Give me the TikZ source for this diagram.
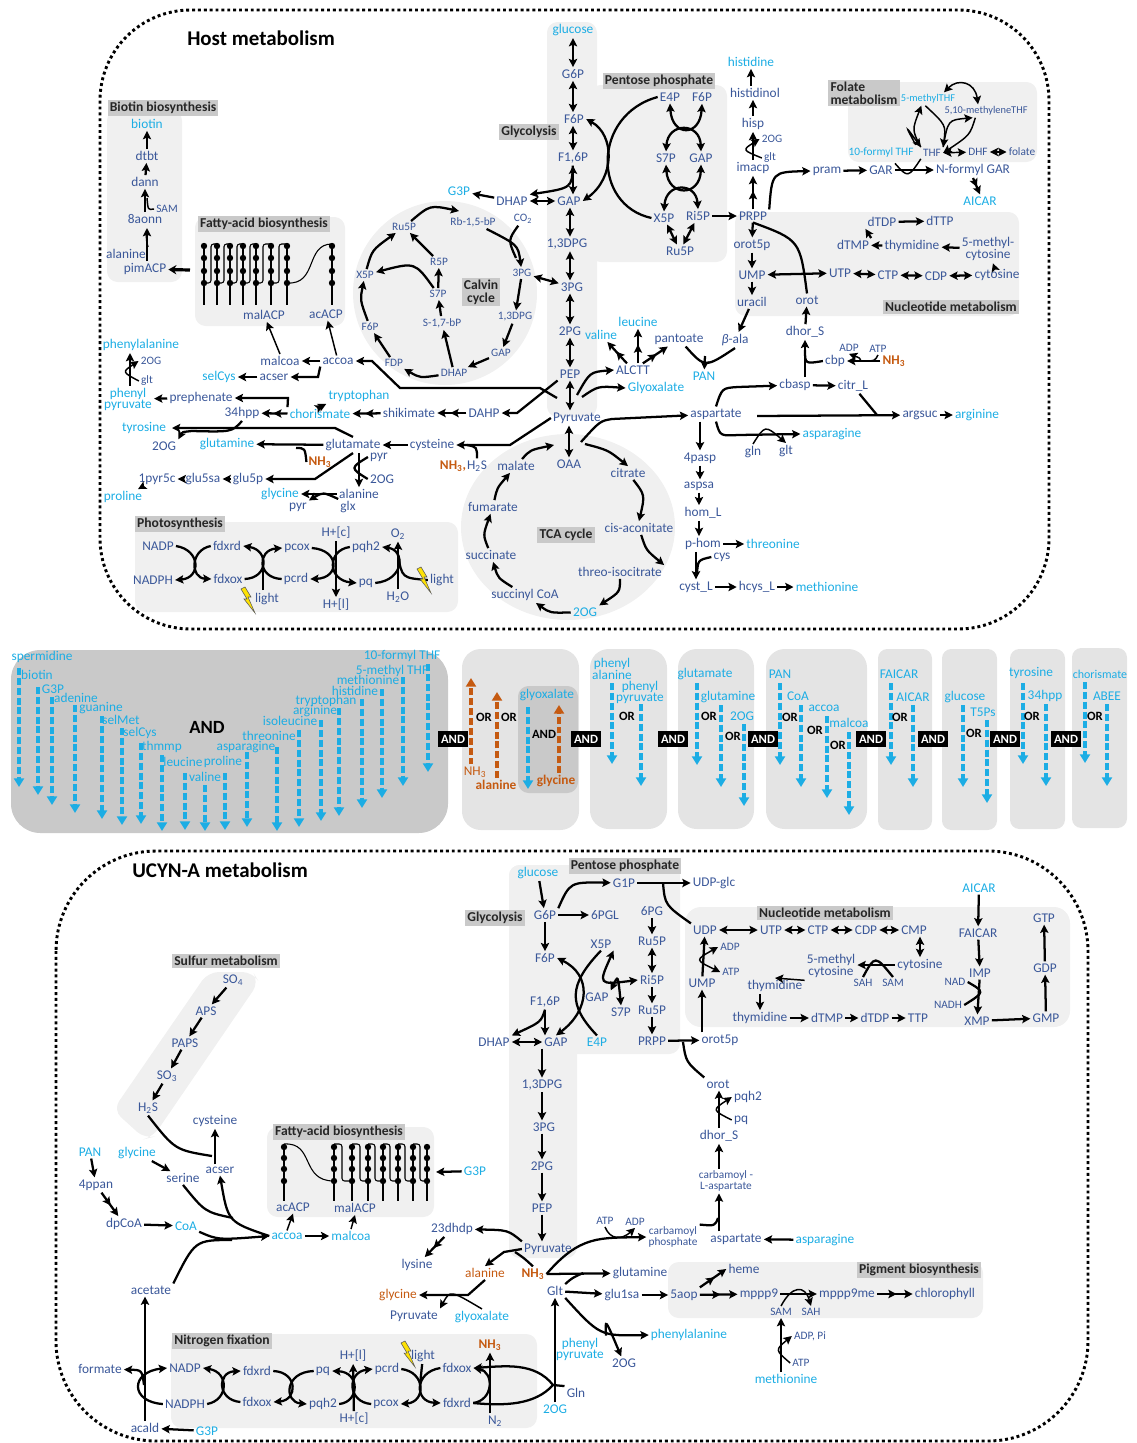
\documentclass[tikz,border=0pt]{standalone}
\usepackage{fontspec}
\setmainfont{Carlito}
\usetikzlibrary{arrows.meta,decorations.markings}
\definecolor{metblue}{HTML}{3A5799}
\definecolor{cyanmet}{HTML}{1CADE4}
\definecolor{orgmet}{HTML}{C55A11}
\definecolor{pnlgray}{HTML}{F0F0F0}
\definecolor{midgray}{HTML}{E4E4E4}
\definecolor{darkgray}{HTML}{C9C9C9}
\tikzset{
met/.style={font=\fontsize{10}{8.2}\selectfont,text=metblue,inner sep=1.5pt,align=center},
cya/.style={met,text=cyanmet},
org/.style={met,text=orgmet},
orgb/.style={met,text=orgmet,font=\fontsize{10}{8.2}\selectfont\bfseries},
sml/.style={met,font=\fontsize{8.5}{8}\selectfont},
smc/.style={sml,text=cyanmet},
tgt/.style={sml,font=\fontsize{7.8}{8}\selectfont},
lab/.style={fill=darkgray,text=black!85,font=\fontsize{10.2}{9.5}\selectfont\bfseries,inner sep=1.6pt,align=left},
andbox/.style={fill=black,text=white,font=\fontsize{9.5}{9.5}\selectfont\bfseries,inner sep=2pt,minimum width=22pt,minimum height=11.5pt},
orlab/.style={text=black,font=\fontsize{9.5}{9.5}\selectfont\bfseries,inner sep=1pt},
ttl/.style={text=black,font=\fontsize{15.7}{15}\selectfont\bfseries,inner sep=0pt,anchor=west},
pnl/.style={fill=pnlgray,rounded corners=8pt},
pnm/.style={fill=midgray,rounded corners=14pt},
pnd/.style={fill=darkgray,rounded corners=22pt},
frm/.style={draw=black,line width=2.2pt,dash pattern=on 2.2pt off 2.2pt},
arr/.style={->,line width=1.7pt},
dbl/.style={<->,line width=1.7pt},
lnk/.style={line width=1.7pt},
thn/.style={line width=1.1pt},
two/.style={arr,decoration={markings,mark=at position .55 with {\arrow{>}}},postaction={decorate}},
dsh/.style={-{Triangle[length=6.5pt,width=7.5pt]},line width=2.4pt,draw=cyanmet,dash pattern=on 5.2pt off 2.2pt},
dso/.style={dsh,draw=orgmet},
bolt/.pic={\path[fill=yellow!85!orange,draw=black!65,line width=.4pt] (-6,-11)--(-2,-13)--(4,-3)--(1,-3)--(8,13)--(-3,-1)--(0,-1)--cycle;}
}
\begin{document}
\begin{tikzpicture}[x=.75pt,y=-.75pt,>={Stealth[length=6.2pt,width=6.2pt,inset=1.2pt]}]
\useasboundingbox (0,0) rectangle (1136,1443);
\draw[frm,rounded corners=68pt] (100,10) rectangle (1049,629);
\draw[frm,rounded corners=75pt] (56,851) rectangle (1088,1441);
\node[ttl] (hTitle) at (187,38) {Host metabolism};
\node[ttl] (uTitle) at (132,870) {UCYN-A metabolism};
% host panels
\fill[pnl] (107,110) rectangle (182,282);
\fill[pnl] (195,217) rectangle (345,326);
\fill[pnlgray] (445,293) circle (92);
\fill[pnl] (547,22) rectangle (597,417);
\fill[pnl] (590,85) rectangle (727,262);
\fill[pnl] (848,82) rectangle (1037,162);
\fill[pnl] (735,212) rectangle (1019,316);
\fill[pnlgray] (568,527) ellipse (107 and 93);
\fill[pnl] (135,522) rectangle (458,612);
% middle panels
\fill[pnd] (11,650) rectangle (448,833);
\fill[pnm] (462,649) rectangle (579,830);
\fill[darkgray,rounded corners=8pt] (518,686) rectangle (578,793);
\fill[pnm] (590,649) rectangle (667,829);
\fill[pnm] (678,649) rectangle (754,829);
\fill[pnm] (766,649) rectangle (867,829);
\fill[pnm,rounded corners=7pt] (878,649) rectangle (932,830);
\fill[pnm,rounded corners=7pt] (942,649) rectangle (997,830);
\fill[pnm,rounded corners=7pt] (1010,649) rectangle (1065,829);
\fill[pnm,rounded corners=7pt] (1072,648) rectangle (1127,828);
% ucyn panels
\fill[pnl] (509,865) rectangle (577,1258);
\fill[pnl] (509,865) rectangle (680,1054);
\fill[pnl,rounded corners=12pt] (685,907) rectangle (1070,1027);
\fill[pnl] (208,972)--(253,972)--(259,982)--(153,1137)--(145,1139)--(113,1110)--cycle;
\fill[pnl] (267,1127) rectangle (434,1217);
\fill[pnl] (668,1262) rectangle (983,1318);
\fill[pnl] (171,1334) rectangle (537,1428);
% section labels
\foreach \n/\x/\y/\lbl in {
lBiotin/163/108/Biotin biosynthesis,lFattyH/264/224/Fatty-acid biosynthesis,lGlyH/529/132/Glycolysis,lPentH/659/81/Pentose phosphate,
lFol/864/93/{Folate\\metabolism},lNucH/951/307/Nucleotide metabolism,lTCA/566/535/TCA cycle,lPhoto/180/524/Photosynthesis,
lPentU/625/866/Pentose phosphate,lGlyU/495/918/Glycolysis,lNucU/825/913/Nucleotide metabolism,lSul/226/961/Sulfur metabolism,lFattyU/339/1132/Fatty-acid biosynthesis,
lPig/919/1270/Pigment biosynthesis,lNfix/222/1341/Nitrogen fixation}
\node[lab] (\n) at (\x,\y) {\lbl};
\node[lab,align=center] (lCalvin) at (481,292) {Calvin\\cycle};
% host metabolites
\foreach \n/\x/\y/\lbl in {
hG6P/573/74/G6P,hF6P/574/119/F6P,hF16P/573/158/{F1,6P},hGAP/569/201/GAP,hDPG/567/244/{1,3DPG},h3PG/572/287/3PG,h2PG/570/331/2PG,hPEP/570/374/PEP,hPyr/577/418/Pyruvate,hOAA/569/464/OAA,
hDHAP/512/201/DHAP,hE4P/670/97/E4P,hF6Pb/702/97/F6P,hS7P/666/158/S7P,hGAPb/701/158/GAP,hX5P/664/218/X5P,hRi5P/698/216/Ri5P,hRu5P/680/251/Ru5P,hPRPP/753/216/PRPP,
himacp/753/168/imacp,hhisp/753/124/hisp,hhistol/755/93/histidinol,hpram/827/171/pram,hGAR/881/170/GAR,hNGAR/973/170/N-formyl GAR,
horot5p/752/245/orot5p,hUMP/752/275/UMP,huracil/752/302/uracil,horot/807/300/orot,hUTP/840/273/UTP,hCTP/888/275/CTP,hCDP/936/276/CDP,hcytos/997/275/cytosine,hmcyt/988/249/{5-methyl-\\cytosine},
hthym/912/246/thymidine,hdTMP/853/245/dTMP,hdTDP/882/222/dTDP,hdTTP/940/221/dTTP,hdhor/805/332/dhor\_S,hcbp/835/361/cbp,hcbasp/795/385/cbasp,hcitr/853/386/citr\_L,hargsuc/920/415/argsuc,
haspt/716/414/aspartate,hgln/753/452/gln,hglt/786/451/glt,h4pasp/700/458/4pasp,haspsa/699/486/aspsa,hhom/703/513/hom\_L,hphom/703/544/p-hom,hcys/722/557/cys,hcyst/696/587/cyst\_L,hhcys/757/587/hcys\_L,
hALCTT/633/370/ALCTT,hpant/679/339/pantoate,hbala/735/340/{\itshape β}-ala,hcitrate/628/473/citrate,hcis/639/528/cis-aconitate,hthreo/620/572/threo-isocitrate,hsuccoa/525/595/succinyl CoA,hsucc/491/555/succinate,hfum/493/507/fumarate,hmal/516/466/malate,
hHtwoS/477/466/H\textsubscript{2}S,hcyste/432/445/cysteine,hglut/353/445/glutamate,hpyra/379/457/pyr,hOGa/382/479/2OG,hala/359/494/alanine,hglx/348/507/glx,hpyrb/298/507/pyr,hglufp/248/479/glu5p,hglusa/203/479/glu5sa,hpyrc/157/479/1pyr5c,hOGb/164/446/2OG,
h34/242/413/34hpp,hshik/409/413/shikimate,hDAHP/484/413/DAHP,hpreph/201/398/prephenate,hacser/274/377/acser,hmalc/280/361/malcoa,haccoa/338/361/accoa,hmalACP/264/315/malACP,hacACP/326/314/acACP,
hdtbt/147/156/dtbt,hdann/145/182/dann,h8aonn/145/219/8aonn,halab/126/254/alanine,hpim/145/269/pimACP,
hNADP/158/546/NADP,hNADPH/153/580/NADPH,hfdxrd/227/546/fdxrd,hfdxox/228/579/fdxox,hpcox/297/548/pcox,hpcrd/296/579/pcrd,hHc/336/533/{H+[c]},hHl/336/605/{H+[l]},hpqh/366/547/pqh2,hpq/366/583/pq,hOtwo/398/534/O\textsubscript{2},hHtwoO/398/597/H\textsubscript{2}O,hlighta/267/599/light,hlightb/442/580/light}
\node[met] (\n) at (\x,\y) {\lbl};
\foreach \n/\x/\y/\lbl in {
hOGc/772/139/2OG,hgltc/770/158/glt,hTHF/932/153/THF,hDHF/978/152/DHF,hfolate/1022/152/folate,hADP/849/348/ADP,hATP/878/349/ATP,hSAM/167/209/SAM,hOGd/151/361/2OG,hgltd/147/381/glt,
hRu5Pc/404/227/Ru5P,hRb/473/222/{Rb-1,5-bP},hCOtwo/523/219/CO\textsubscript{2},h3PGc/522/273/3PG,hDPGc/515/317/{1,3DPG},hGAPc/501/353/GAP,hDHAPc/454/373/DHAP,hFDP/394/363/FDP,hF6Pc/370/327/F6P,hX5Pc/365/275/X5P,hR5P/439/262/R5P,hS7Pc/438/294/S7P,hSbP/442/323/{S-1,7-bP}}
\node[sml] (\n) at (\x,\y) {\lbl};
\node[tgt] (hmeth) at (986,111) {5,10-methyleneTHF};
\node[tgt,text=cyanmet] (hmthf) at (928,99) {5-methylTHF};
\foreach \n/\x/\y/\lbl in {
hgluc/573/30/glucose,hGthree/459/191/G3P,hhis/751/62/histidine,hAICAR/980/201/AICAR,hleu/638/322/leucine,hval/601/335/valine,hPAN/704/376/PAN,hGlyox/656/388/Glyoxalate,
harg/977/415/arginine,hasn/832/434/asparagine,hthr/773/544/threonine,hmet/827/587/methionine,hOGe/585/612/2OG,hgln2/227/444/glutamine,hgly/280/494/glycine,hpro/123/497/proline,htyr/144/428/tyrosine,
hcho/320/414/chorismate,htrp/359/396/tryptophan,hphepy/128/399/{phenyl\\pyruvate},hphe/141/345/phenylalanine,hselC/219/377/selCys,hbio/147/124/biotin}
\node[cya] (\n) at (\x,\y) {\lbl};
\node[smc] (hfthf) at (881,152) {10-formyl THF};
\node[orgb] (hNHa) at (894,361) {NH\textsubscript{3}};
\node[orgb] (hNHb) at (453,466) {NH\textsubscript{3},};
\node[orgb] (hNHc) at (320,462) {NH\textsubscript{3}};
\coordinate (hPyrA) at (581,442);
\coordinate (hPyrB) at (585,444);
\coordinate (hPyrC) at (577,395);
\coordinate (hPyrD) at (582,397);
\coordinate (hPyrE) at (557,398);
\coordinate (hAspE) at (757,416);
% host glycolysis and pentose
\foreach \a/\b in {hgluc/hG6P,hG6P/hF6P,hF6P/hF16P}
\draw[dbl] (\a.south -| hG6P) -- (\b.north -| hG6P);
\draw[dbl] (hF16P) -- (hGAP.north -| hF16P);
\foreach \a/\b in {hGAP/hDPG,hDPG/h3PG,h3PG/h2PG,h2PG/hPEP}
\draw[dbl] (\a.south -| h2PG) -- (\b.north -| h2PG);
\draw[dbl] (hPEP) -- (hPyr.north -| hPEP);
\draw[dbl] (hPyr.south -| hOAA) -- (hOAA);
\draw[arr] (hF16P) .. controls (572,188) .. (hDHAP.north east);
\draw[dbl] (hDHAP) -- (hGAP);
\draw[arr] (hDHAP) -- (hGthree);
\draw[dbl] (h3PGc) -- (h3PG);
\draw[dbl] (hF6P.east) .. controls (615,135) and (615,178) .. (hGAP.east);
\draw[lnk] (hE4P.west) .. controls (592,115) and (592,205) .. (hX5P.west);
\draw[dbl] (hE4P.south) .. controls (672,137) and (700,137) .. (hF6Pb.south);
\draw[dbl] (hS7P.north) .. controls (668,122) and (700,122) .. (hGAPb.north);
\draw[dbl] (hS7P.south) .. controls (668,197) and (700,197) .. (hGAPb.south);
\draw[dbl] (hX5P.north) .. controls (666,182) and (696,182) .. (hRi5P.north);
\draw[dbl] (hX5P) -- (hRu5P);
\draw[dbl] (hRi5P) -- (hRu5P);
\draw[arr] (hRi5P) -- (hPRPP);
% host histidine, folate
\draw[two] (hPRPP) -- (himacp);
\draw[arr] (himacp) -- (hhisp);
\draw[arr] (hhisp) -- (hhistol.south -| hhisp);
\draw[arr] (hhistol.north -| hhis) -- (hhis);
\draw[arr,thn] (hgltc.west) .. controls (742,150) .. (hOGc.west);
\draw[arr] (hPRPP.north east) .. controls (772,172) .. (hpram.west);
\draw[arr] (hpram) -- (hGAR);
\draw[arr] (hGAR) -- (hNGAR);
\draw[two] (hNGAR.south) -- (hAICAR.north);
\draw[dbl,thn] ([xshift=12pt]hmthf.north) .. controls (958,78) and (975,82) .. ([xshift=-6pt]hmeth.north);
\draw[->,thn] (hTHF.north west) .. controls (912,130) .. ([xshift=-5pt]hmthf.south);
\draw[->,thn] ([xshift=-2pt]hmthf.south) .. controls (946,125) .. (hTHF.north east);
\draw[->,thn] (hTHF.north east) .. controls (948,120) .. ([xshift=-10pt]hmeth.south);
\draw[->,thn] ([xshift=-8pt]hmeth.south) .. controls (970,135) .. (hTHF.east);
\draw[->,thn] (hfthf.north east) .. controls (905,125) .. (hTHF.north west);
\draw[thn] (hGAR.north east) .. controls (908,178) .. (hTHF.south west);
\draw[dbl,thn] (hTHF) -- (hDHF);
\draw[dbl,thn] (hDHF) -- (hfolate);
% host nucleotides
\draw[arr] (hPRPP) -- (horot5p);
\draw[arr] (horot5p) -- (hUMP);
\draw[arr] (hUMP) -- (huracil);
\draw[dbl] (hUMP) -- (hUTP);
\draw[dbl] (hUTP) -- (hCTP);
\draw[dbl] (hCTP) -- (hCDP);
\draw[dbl] (hCDP) -- (hcytos);
\draw[arr] (hcytos) -- (hmcyt);
\draw[arr] (hmcyt) -- (hthym);
\draw[arr] (hthym) -- (hdTMP);
\draw[arr] (hdTMP.north east) -- (hdTDP.south west);
\draw[arr] (hdTDP) -- (hdTTP);
\draw[lnk] (hPRPP.south) .. controls (800,240) .. (horot.north);
\draw[arr] (hdhor) -- (horot);
\draw[arr] (huracil) -- (hbala);
\draw[arr] (hcbasp.north -| hdhor) -- (hdhor);
\draw[lnk] (hcbp.west) .. controls (805,364) .. (805,350);
\draw[arr] (hNHa) -- (hcbp);
\draw[arr,thn] (861,361) .. controls (860,358) .. (hADP.south);
\draw[thn] (hATP.south) .. controls (875,361) .. (862,361);
% host aspartate
\draw[arr] (hPyrA) .. controls (600,421) .. (612,419) -- (haspt);
\draw[arr] (haspt.north) .. controls (722,388) .. (738,387) -- (hcbasp);
\draw[arr] (hcbasp) -- (hcitr);
\draw[arr] (hAspE) -- (hargsuc);
\draw[lnk] (hcitr) -- (877,415);
\draw[arr] (hargsuc) -- (harg);
\draw[arr] (haspt.south) .. controls (720,436) .. (738,435) -- (hasn.west);
\draw[arr,thn] (hgln.north) .. controls (765,425) .. (hglt.north);
\draw[arr] (haspt.south -| h4pasp) -- (h4pasp);
\draw[arr] (h4pasp) -- (haspsa.north -| h4pasp);
\draw[arr] (haspsa) -- (hhom.north -| haspsa);
\draw[arr] (hhom.south -| haspsa) -- (hphom.north -| haspsa);
\draw[arr] (hphom) -- (hthr);
\draw[arr] (hphom.south -| hcyst) -- (hcyst);
\draw[lnk] (hcys.west) .. controls (698,560) .. (697,573);
\draw[arr] (hcyst) -- (hhcys);
\draw[arr] (hhcys) -- (hmet);
% host branch points
\draw[arr] (hPyrC) .. controls (590,372) .. (hALCTT.west);
\draw[arr] (hPyrD) .. controls (598,386) .. (hGlyox.west);
\draw[two] (hALCTT) -- (hval);
\draw[two] (hALCTT.north -| hleu) -- (hleu);
\draw[two] (hALCTT) -- (hpant);
\draw[lnk] ([xshift=5pt]hpant.south) .. controls (705,368) .. (hbala.south);
\coordinate (hPANjoin) at (705,356);
\draw[arr] (hPANjoin) -- (hPAN);
% host TCA
\draw[arr] (hPyrB) .. controls (608,450) .. (hcitrate.north);
\draw[arr] (hcitrate) .. controls (645,495) .. (hcis.north);
\draw[arr] (hcis) .. controls (646,550) .. (hthreo.north east);
\draw[arr] (hthreo) .. controls (620,592) .. (hOGe.north east);
\draw[arr] (hOGe) .. controls (550,613) .. (hsuccoa);
\draw[arr] (hsuccoa) .. controls (498,578) .. (hsucc);
\draw[arr] (hsucc) .. controls (483,535) .. (hfum);
\draw[arr] (hfum) .. controls (497,488) .. (hmal);
\draw[arr] (hmal) .. controls (530,450) .. (554,445);
% host calvin
\draw[arr] (hRu5Pc) .. controls (430,205) .. (459,211);
\draw[arr] (hX5Pc) .. controls (372,250) .. (hRu5Pc);
\draw[arr] (hR5P) -- (hRu5Pc);
\draw[arr] (hS7Pc) -- (hR5P);
\draw[arr] (hS7Pc) .. controls (415,262) .. (hX5Pc);
\draw[arr] (hSbP) -- (hS7Pc);
\draw[arr] (hDHAPc) -- (hSbP);
\draw[arr] (hDHAPc) .. controls (420,378) .. (hFDP);
\draw[arr] (hFDP) -- (hF6Pc);
\draw[arr] (hF6Pc) .. controls (360,300) .. (hX5Pc);
\draw[arr] (hGAPc) -- (hDHAPc);
\draw[arr] (hDPGc) -- (hGAPc);
\draw[arr] (h3PGc) -- (hDPGc);
\draw[arr] (hRb) .. controls (518,245) .. (h3PGc);
\draw[lnk] (hCOtwo) .. controls (508,240) .. (516,258);
% host amino acids
\draw[arr] (hPyrE) -- (540,388) -- (400,388) -- (372,361) -- (haccoa);
\draw[arr] (hPEP.south west) -- (517,413) -- (hDAHP);
\draw[arr] (hPyr.west) -- (510,445) -- (hcyste);
\draw[lnk] (hHtwoS.north) .. controls (477,447) .. (467,445);
\draw[arr] (hcyste) -- (hglut);
\draw[arr] (hglut) -- (hgln2);
\draw[lnk] (hNHc.west) .. controls (305,448) .. (296,448);
\draw[arr] (hglut.south -| hala) -- (hala);
\draw[lnk] (hpyra.west) .. controls (350,468) .. (hOGa.west);
\draw[arr] (hglut.south) -- (315,479) -- (hglufp);
\draw[arr] (hglut.north) -- (335,428) -- (172,428);
\draw[arr] (h34.south) .. controls (232,432) .. (192,431) .. controls (182,432) .. (hOGb.north east);
\draw[arr] (hcho.north west) -- (288,398) -- (hpreph);
\draw[arr] (hpreph) -- (hphepy);
\draw[two] (hcho) -- (h34);
\draw[two] (hshik) -- (hcho);
\draw[two] (hDAHP) -- (hshik);
\draw[two] (hcho.north) -- (htrp.south west);
\draw[arr] (hphepy.north -| 130,0) -- (130,353);
\draw[->,thn] (hgltd.west) .. controls (122,372) .. (hOGd.west);
\draw[arr] (haccoa) -- (hmalc);
\draw[arr] (hacser) -- (hselC);
\draw[arr] (haccoa.south west) -- (318,377) -- (hacser);
\draw[arr,thn] (hmalc.north) -- (hmalACP);
\draw[arr,thn] (haccoa) -- (hacACP);
\draw[arr] (hglufp) -- (hglusa);
\draw[arr] (hglusa) -- (hpyrc);
\draw[arr,thn] (hpyrc) -- (hpro);
\draw[arr] (hala) -- (hgly);
\draw[arr] (hglx.north west) .. controls (323,492) .. (hpyrb);
% host biotin and fatty acid
\draw[arr] (hdtbt) -- (hbio);
\draw[arr] (hdann) -- (hdtbt);
\draw[arr] (h8aonn) -- (hdann);
\draw[lnk,thn] (hSAM.west) .. controls (148,210) .. (147,198);
\draw[arr] (hpim.north -| 147,0) -- (147,228);
\draw[lnk,thn] (halab.north east) .. controls (147,245) .. (146,232);
\coordinate (hFAend) at (190,270);
\draw[-{Stealth[length=6pt,width=7pt]},line width=2.4pt] (hFAend) -- (hpim);
\foreach \x in {204,217,230,243,256,271,287,332} {
\draw[line width=1pt] (\x,246) -- (\x,305);
\foreach \y in {246,258,271,283} \fill (\x,\y) circle (3.2);
}
\foreach \a/\m/\b in {204/211/217,217/224/230,230/237/243,243/250/256,256/263/271,271/279/287}
\draw[line width=.8pt,rounded corners=2pt] (\a,283) -- (\m,283) -- (\m,244) -- (\b,244);
\draw[line width=.8pt] (287,283) .. controls (318,285) and (305,244) .. (332,244);
% photosynthesis
\draw[->,lnk] (hNADP.east) .. controls (201,550) and (201,578) .. (hNADPH.east);
\draw[->,lnk] (hfdxrd.west) .. controls (190,550) and (190,578) .. (hfdxox.west);
\draw[->,lnk] (hfdxox.east) .. controls (269,578) and (269,550) .. (hfdxrd.east);
\draw[->,lnk] (hpcrd.west) .. controls (257,578) and (257,550) .. (hpcox.west);
\coordinate (hphotA) at (263,590);
\coordinate (hphotAc) at (263,565);
\draw[lnk] (hphotA) -- (hphotAc);
\draw[->,lnk] (hpcox.east) .. controls (340,550) and (340,578) .. (hpcrd.east);
\draw[->,lnk] (hpqh.west) .. controls (327,550) and (327,580) .. (hpq.west);
\draw[arr] (hHc) -- (hHl);
\draw[->,lnk] (hpq.east) .. controls (405,580) and (405,550) .. (hpqh.east);
\draw[arr] (hHtwoO) -- (hOtwo);
\draw[lnk] (hlightb.west) .. controls (402,578) .. (398,555);
\pic at (247,600) {bolt};
\pic at (423,580) {bolt};
% middle: AND panel
\node[font=\fontsize{14}{14}\selectfont\bfseries] (mAND) at (207,727) {AND};
\foreach \n/\x/\y/\lbl in {
mspe/42/657/spermidine,mbio/37/675/biotin,mGthree/53/689/G3P,made/76/698/adenine,mgua/101/708/guanine,msme/121/720/selMet,msel/140/733/selCys,mthm/162/747/thmmp,mleu/183/762/leucine,mpro/223/762/proline,mval/205/777/valine,
masn/246/747/asparagine,mthr/269/736/threonine,miso/290/721/isoleucine,marg/315/711/arginine,mtrp/326/701/tryptophan,mhis/355/691/histidine,mmet/368/680/methionine,mmthf/392/671/5-methyl THF,mfthf/402/656/10-formyl THF,
mglyox/547/695/glyoxalate,mpa/612/669/{phenyl\\alanine},mpp/640/692/{phenyl\\pyruvate},mglu/705/674/glutamate,mgln/728/697/glutamine,mOG/742/716/2OG,mPAN/780/674/PAN,mCoA/798/696/CoA,macc/824/708/accoa,mmal/849/723/malcoa,
mFA/899/674/FAICAR,mAI/913/697/AICAR,mglc/965/697/glucose,mTP/983/712/T5Ps,mtyr/1031/673/tyrosine,m34/1045/696/34hpp,mABEE/1107/696/ABEE}
\node[cya] (\n) at (\x,\y) {\lbl};
\node[smc,font=\fontsize{9}{9}\selectfont] (mcho) at (1100,674) {chorismate};
\foreach \n/\x/\a/\b in {
a/19/668/787,b/38/687/795,c/52/697/805,d/75/705/813,e/102/716/819,f/122/728/825,g/141/743/824,h/162/755/831,i/185/773/830,j/205/785/831,k/225/773/830,l/247/752/827,
m/277/747/831,n/299/730/827,o/321/720/821,p/339/708/816,q/362/699/808,r/382/689/798,s/403/677/786,t/428/664/772,
u/528/707/789,v/612/683/764,w/641/704/786,x/697/683/765,y/721/705/787,z/744/724/806,aa/780/683/765,ab/801/705/787,ac/827/716/798,ad/849/732/815,ae/891/683/765,af/913/705/787,ag/963/705/787,ah/987/720/803,ai/1023/683/764,aj/1046/704/786,ak/1085/682/763,al/1107/704/786}{
\coordinate (s\n) at (\x,\a);
\coordinate (e\n) at (\x,\b);
\draw[dsh] (s\n) -- (e\n);
}
\node[org] (mNH) at (475,772) {NH\textsubscript{3}};
\node[orgb] (mala) at (496,785) {alanine};
\node[orgb] (mgly) at (556,781) {glycine};
\coordinate (mNHtop) at (471,678);
\coordinate (malatop) at (497,692);
\coordinate (mglytop) at (559,705);
\draw[dso] (mNH.north -| mNHtop) -- (mNHtop);
\draw[dso] (mala.north -| malatop) -- (malatop);
\draw[dso] (mgly.north -| mglytop) -- (mglytop);
\foreach \n/\x in {a1/453,a2/586,a3/673,a4/763,a5/871,a6/933,a7/1005,a8/1066}
\node[andbox] (\n) at (\x,739) {AND};
\foreach \n/\x/\y in {o1/484/717,o2/509/717,o3/627/716,o4/709/716,o5/733/736,o6/790/717,o7/815/730,o8/838/745,o9/900/717,o10/974/733,o11/1032/716,o12/1095/716}
\node[orlab] (\n) at (\x,\y) {OR};
\node[orlab] (oA) at (544,734) {AND};
% ucyn metabolites
\foreach \n/\x/\y/\lbl in {
uG6P/545/915/G6P,uG1P/624/883/G1P,uUDPg/714/883/UDP-glc,u6PGL/605/915/6PGL,u6PG/652/911/6PG,uX5P/601/944/X5P,uRu5P/652/941/Ru5P,uF6P/545/958/F6P,uRi5P/652/980/Ri5P,uGAPb/597/997/GAP,uF16P/545/1002/{F1,6P},uS7P/621/1012/S7P,uRu5Pb/652/1010/Ru5P,
uDHAP/494/1042/DHAP,uGAP/556/1042/GAP,uPRPP/652/1041/PRPP,uorot5p/720/1040/orot5p,uDPG/542/1085/{1,3DPG},u3PG/544/1127/3PG,u2PG/542/1166/2PG,uPEP/542/1208/PEP,uPyr/548/1249/Pyruvate,
uUDP/705/930/UDP,uUTP/771/930/UTP,uCTP/818/930/CTP,uCDP/866/930/CDP,uCMP/914/930/CMP,ucytos/920/965/cytosine,umcyt/831/966/{5-methyl\\cytosine},uthym/775/986/thymidine,uthymb/760/1018/thymidine,udTMP/827/1018/dTMP,udTDP/875/1018/dTDP,uTTP/918/1018/TTP,uUMP/702/983/UMP,
uFAI/978/933/FAICAR,uIMP/980/973/IMP,uXMP/977/1021/XMP,uGMP/1046/1018/GMP,uGDP/1045/968/GDP,uGTP/1044/918/GTP,uorot/718/1084/orot,upqh/748/1097/pqh2,upq/741/1120/pq,udhor/719/1136/dhor\_S,
uaspt/736/1239/aspartate,uglutm/640/1273/glutamine,uGlt/555/1291/Glt,uglu1/622/1295/glu1sa,u5aop/684/1295/5aop,uheme/744/1269/heme,umppp/759/1294/mppp9,umpme/847/1294/mppp9me,uchl/945/1294/chlorophyll,
uOGa/624/1363/2OG,uGln/576/1393/Gln,uNtwo/495/1421/N\textsubscript{2},uSOf/233/980/SO\textsubscript{4},uAPS/206/1011/APS,uPAPS/185/1043/PAPS,uSOt/167/1076/SO\textsubscript{3},uHtwoS/148/1108/H\textsubscript{2}S,
ucyst/215/1121/cysteine,uacser/220/1170/acser,userine/183/1178/serine,u4ppan/96/1185/4ppan,udpCoA/124/1224/dpCoA,uacACP/293/1207/acACP,umalACP/355/1208/malACP,u23/452/1229/23dhdp,ulys/417/1265/lysine,
uacet/151/1290/acetate,uform/100/1369/formate,uNADP/185/1368/NADP,uNADPH/185/1404/NADPH,ufdxrd/257/1371/fdxrd,ufdxox/257/1402/fdxox,upq2/323/1371/pq,upqh2/323/1404/pqh2,uHl/353/1356/{H+[l]},uHc/354/1419/{H+[c]},upcrd/387/1369/pcrd,upcox/386/1404/pcox,ulight/423/1356/light,
ufdxoxb/457/1368/fdxox,ufdxrdb/457/1403/fdxrd,uacald/145/1428/acald,uPyrb/414/1316/Pyruvate}
\node[met] (\n) at (\x,\y) {\lbl};
\foreach \n/\x/\y/\lbl in {
uADP/730/947/ADP,uATP/731/972/ATP,uSAH/863/983/SAH,uSAM/893/983/SAM,uNAD/955/982/NAD,uNADH/948/1005/NADH,ucarb/673/1237/{carbamoyl\\phosphate},uATPb/605/1221/ATP,uADPb/635/1222/ADP,ucasp/726/1181/{carbamoyl -\\L-aspartate},uSAMb/781/1312/SAM,uSAHb/811/1312/SAH,uADPc/810/1336/{ADP, Pi},uATPc/801/1363/ATP}
\node[sml] (\n) at (\x,\y) {\lbl};
\foreach \n/\x/\y/\lbl in {
uglc/538/873/glucose,uE4P/597/1042/E4P,uAIC/979/888/AICAR,uPAN/90/1152/PAN,uglyc/137/1153/glycine,uCoA/186/1226/CoA,uaccoa/287/1236/accoa,umalc/351/1236/malcoa,uGthree/475/1171/G3P,uasn/825/1240/asparagine,
uphe/689/1335/phenylalanine,uphepy/580/1349/{phenyl\\pyruvate},umet/786/1379/methionine,uOGb/555/1409/2OG,uGthreeb/207/1431/G3P,uglyox/482/1317/glyoxalate}
\node[cya] (\n) at (\x,\y) {\lbl};
\node[org] (uala) at (485,1273) {alanine};
\node[org] (ugly) at (398,1295) {glycine};
\node[orgb] (uNHa) at (533,1274) {NH\textsubscript{3}};
\node[orgb] (uNHb) at (490,1345) {NH\textsubscript{3}};
% ucyn glycolysis and pentose
\foreach \a/\b in {uGAP/uDPG,uDPG/u3PG,u3PG/u2PG,u2PG/uPEP}
\draw[arr] (\a.south -| u2PG) -- (\b.north -| u2PG);
\foreach \a/\b in {uglc/uG6P,uG6P/uF6P,uG6P/u6PGL,u6PG/uRu5P,uRi5P/uRu5Pb,uRu5Pb/uPRPP,uG1P/uUDPg,uUMP/uUDP,uAIC/uFAI,uFAI/uIMP,uIMP/uXMP,uXMP/uGMP,uGMP/uGDP,uGDP/uGTP,uthymb/udTMP,udTMP/udTDP,udTDP/uTTP,uasn/uaspt,uglu1/u5aop,uAPS/uPAPS,uSOf/uAPS,uPAPS/uSOt,uSOt/uHtwoS}
\draw[arr] (\a) -- (\b);
\draw[arr] (uPEP) -- (uPyr.north -| uPEP);
\draw[arr] (uorot5p.north -| uUMP) -- (uUMP);
\draw[arr] (uthym.south -| uthymb) -- (uthymb);
\draw[arr] (uaspt.north -| udhor) -- (ucasp.south -| udhor);
\draw[arr] (ucasp.north -| udhor) -- (udhor);
\draw[arr] (udhor) -- (uorot.south -| udhor);
\draw[arr] (uG6P.north east) .. controls (570,882) .. (uG1P);
\draw[lnk] (uUDP.north west) .. controls (665,905) .. (663,883);
\draw[dbl] (uRu5P) -- (uRi5P);
\draw[arr] (uF16P) -- (uGAP.north -| uF16P);
\draw[arr] (uF16P.south) .. controls (541,1022) .. (uDHAP.north east);
\draw[dbl] (uDHAP) -- (uGAP);
\draw[lnk] (uX5P.south) .. controls (568,985) and (568,1005) .. (uE4P.north);
\draw[dbl] (uF6P.east) .. controls (592,975) and (590,1010) .. (uGAP.north);
\draw[dbl] (uX5P.south east) .. controls (598,985) .. (uRi5P.west);
\draw[dbl] (uGAPb.north east) .. controls (618,975) .. (uS7P.north);
\draw[arr] (uPRPP) -- (uorot5p);
\draw[lnk] (uorot.north west) .. controls (686,1062) .. (683,1042);
% ucyn nucleotides
\draw[dbl] (uUDP) -- (uUTP);
\draw[dbl] (uUTP) -- (uCTP);
\draw[dbl] (uCTP) -- (uCDP);
\draw[dbl] (uCDP) -- (uCMP);
\draw[dbl] (uCMP.south -| ucytos) -- (ucytos);
\draw[dbl,thn] (uADP.west) .. controls (695,960) .. (uATP.west);
\draw[arr] (ucytos) -- (umcyt.east |- ucytos);
\draw[lnk] (uSAM.north) .. controls (875,955) .. (uSAH.north);
\draw[arr,thn] (umcyt.south west) -- (uthym.north);
\draw[lnk] (uNAD.east) .. controls (985,992) .. (uNADH.east);
% ucyn left side
\draw[arr] (uPAN) -- (u4ppan);
\draw[two] (u4ppan) -- (udpCoA);
\draw[arr] (udpCoA) -- (uCoA);
\draw[arr] (uglyc) -- (userine);
\coordinate (umerA) at (233,1218);
\coordinate (umerB) at (232,1240);
\draw[lnk] (userine.south) .. controls (205,1212) .. (umerA);
\draw[lnk] (uHtwoS.south) .. controls (175,1150) .. (212,1156);
\draw[arr] (uacser.north -| ucyst) -- (ucyst);
\draw[arr] (uaccoa.west) .. controls (228,1222) .. (uacser.south);
\draw[arr] (uCoA) .. controls (218,1240) .. (uaccoa.west);
\draw[lnk] (uacet.north east) .. controls (195,1240) .. (umerB);
\draw[arr] (uaccoa) -- (umalc);
\draw[arr,thn] (umalc.north) -- (umalACP.south);
\draw[arr,thn] (uaccoa.north) -- (uacACP.south);
\coordinate (uFAend) at (436,1172);
\draw[arr] (uGthree) -- (uFAend);
\foreach \x in {284,334,352,368,383,398,413,427} {
\draw[line width=1pt] (\x,1147) -- (\x,1201);
\foreach \y in {1147,1158,1169,1181} \fill (\x,\y) circle (3.2);
}
\draw[line width=.8pt] (284,1144) .. controls (315,1142) and (300,1181) .. (334,1181);
\foreach \a/\m/\b in {334/342/352,352/360/368,368/375/383,383/390/398,398/405/413,413/420/427}
\draw[line width=.8pt,rounded corners=2pt] (\a,1144) -- (\m,1144) -- (\m,1181) -- (\b,1181);
% ucyn pyruvate side
\draw[arr] (uPyr.north west) .. controls (508,1230) .. (u23);
\draw[two] (u23) -- (ulys);
\draw[arr] (uPyr.west) -- (504,1252) -- (uala.north);
\draw[lnk] (uNHa.north) .. controls (524,1258) .. (515,1252);
\draw[arr] (uala.south) -- (468,1295) -- (ugly);
\draw[arr,thn] (uglyox.north) .. controls (450,1290) .. (uPyrb.north east);
\draw[arr] (uOGb) -- (uGlt);
\draw[arr] (uacald.north) -- (uacet.south -| uacald);
\draw[arr] (uGthreeb) -- (uacald);
\coordinate (uNcen) at (144,1385);
\draw[->,lnk] (uNADPH.west) .. controls (130,1402) and (130,1372) .. (uNADP.west);
\draw[->,lnk] (uNcen) .. controls (142,1370) .. (uform);
\draw[->,lnk] (uNADPH.east) .. controls (229,1400) and (229,1372) .. (uNADP.east);
\draw[->,lnk] (ufdxox.west) .. controls (217,1400) and (217,1372) .. (ufdxrd.west);
\draw[->,lnk] (ufdxrd.east) .. controls (298,1372) and (298,1400) .. (ufdxox.east);
\draw[->,lnk] (upq2.west) .. controls (284,1372) and (284,1402) .. (upqh2.west);
\draw[->,lnk] (upqh2.east) .. controls (360,1402) and (360,1372) .. (upq2.east);
\draw[->,lnk] (upcox.west) .. controls (347,1402) and (347,1372) .. (upcrd.west);
\draw[arr] (uHc) -- (uHl);
\draw[->,lnk] (upcrd.east) .. controls (426,1372) and (426,1402) .. (upcox.east);
\draw[->,lnk] (ufdxoxb.west) .. controls (414,1372) and (414,1402) .. (ufdxrdb.west);
\draw[lnk] (ulight) -- (420,1385);
\draw[->,lnk] (ufdxrdb.east) .. controls (494,1400) and (494,1372) .. (ufdxoxb.east);
\draw[arr] (uNtwo.north -| uNHb) -- (uNHb);
\coordinate (uGcen) at (553,1385);
\draw[->,lnk] (uGcen) .. controls (535,1362) and (505,1366) .. (ufdxoxb.east);
\draw[lnk] (ufdxrdb.east) .. controls (505,1406) and (535,1405) .. (uGcen);
\draw[lnk] (uGln.north west) -- (uGcen);
\pic at (407,1354) {bolt};
% ucyn right side
\draw[arr] (uNHa.east) .. controls (580,1235) and (600,1238) .. (ucarb.west);
\draw[->,thn] (uATPb.south) .. controls (610,1240) and (622,1240) .. (uADPb.south);
\draw[lnk] (ucarb.north east) .. controls (715,1226) .. (718,1218);
\draw[->,thn] (upq.west) .. controls (712,1110) .. (upqh.west);
\draw[arr] (uNHa.east) -- (uglutm);
\draw[lnk] (uGlt.north east) .. controls (572,1278) .. (583,1273);
\draw[arr] (uGlt) -- (uglu1);
\draw[two] (u5aop) -- (umppp);
\draw[two] (u5aop.north east) -- (uheme.west);
\draw[arr] (umppp) -- (umpme);
\draw[->,thn] (uSAMb.north) .. controls (792,1285) and (805,1285) .. (uSAHb.north);
\draw[two] (umpme) -- (uchl);
\draw[arr] (umet.north -| uSAMb) -- (uSAMb);
\draw[->,thn] (uATPc.west) .. controls (775,1350) .. (uADPc.west);
\draw[arr] (uGlt.south east) .. controls (600,1336) .. (uphe.west);
\draw[arr] (uphepy.north east) .. controls (605,1318) .. (uOGa);
\end{tikzpicture}
\end{document}
